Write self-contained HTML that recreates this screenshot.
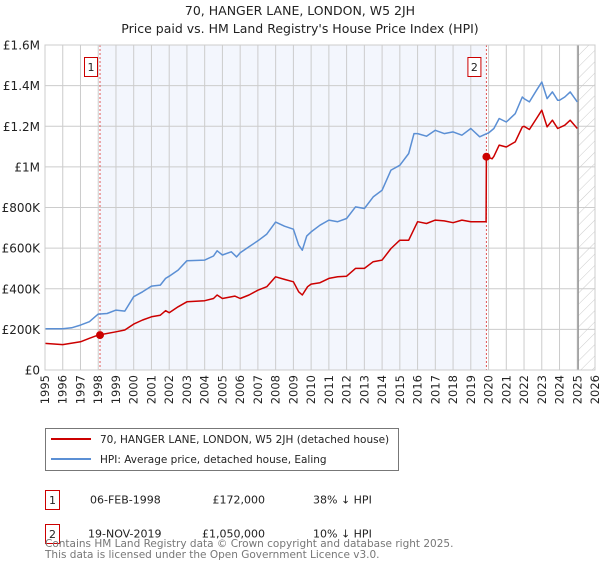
<!DOCTYPE html>
<html><head><meta charset="utf-8">
<style>
body{margin:0;background:#fff;font-family:"Liberation Sans","DejaVu Sans",sans-serif;}
svg text{font-family:"DejaVu Sans","Liberation Sans",sans-serif;}
</style></head>
<body>
<svg id="chart" width="600" height="560" viewBox="0 0 600 560" xmlns="http://www.w3.org/2000/svg">
<defs>
<pattern id="hatch" patternUnits="userSpaceOnUse" width="8" height="8" patternTransform="rotate(45)">
<line x1="0" y1="0" x2="0" y2="8" stroke="#ccc" stroke-width="1"/>
</pattern>
</defs>
<text x="300" y="15" text-anchor="middle" font-size="12.5" fill="#222">70, HANGER LANE, LONDON, W5 2JH</text>
<text x="300" y="33" text-anchor="middle" font-size="12.5" fill="#222">Price paid vs. HM Land Registry's House Price Index (HPI)</text>
<g id="plot"></g>
<g>
<rect x="45.5" y="428.5" width="353" height="42" fill="#fff" stroke="#777"/>
<line x1="51" y1="439" x2="91" y2="439" stroke="#cc0000" stroke-width="2"/>
<text x="100" y="443" font-size="10.5" fill="#222">70, HANGER LANE, LONDON, W5 2JH (detached house)</text>
<line x1="51" y1="459" x2="91" y2="459" stroke="#5b8fd4" stroke-width="2"/>
<text x="100" y="463" font-size="10.5" fill="#222">HPI: Average price, detached house, Ealing</text>
</g>
<g font-size="11" fill="#222">
<rect x="45.5" y="490.5" width="14" height="19" fill="#fff" stroke="#cc0000"/>
<text x="52.5" y="504" text-anchor="middle">1</text>
<text x="90" y="503.5">06-FEB-1998</text>
<text x="265" y="503.5" text-anchor="end">£172,000</text>
<text x="313" y="503.5">38% ↓ HPI</text>
<rect x="45.5" y="524.5" width="14" height="19" fill="#fff" stroke="#cc0000"/>
<text x="52.5" y="538" text-anchor="middle">2</text>
<text x="88" y="537.5">19-NOV-2019</text>
<text x="265" y="537.5" text-anchor="end">£1,050,000</text>
<text x="313" y="537.5">10% ↓ HPI</text>
</g>
<text x="45" y="547" font-size="10.5" fill="#777">Contains HM Land Registry data © Crown copyright and database right 2025.</text>
<text x="45" y="558" font-size="10.5" fill="#777">This data is licensed under the Open Government Licence v3.0.</text>
</svg>
<script>
const hpiYears=[1995,1996,1996.5,1997,1997.5,1998,1998.5,1999,1999.5,2000,2000.5,2001,2001.5,2001.8,2002,2002.5,2003,2004,2004.5,2004.7,2005,2005.5,2005.8,2006,2006.5,2007,2007.5,2008,2008.5,2009,2009.3,2009.5,2009.75,2010,2010.5,2011,2011.5,2012,2012.5,2013,2013.5,2014,2014.5,2015,2015.5,2015.8,2016,2016.5,2017,2017.5,2018,2018.5,2019,2019.5,2019.9,2020,2020.3,2020.6,2021,2021.5,2021.9,2022,2022.3,2022.7,2023,2023.3,2023.6,2023.9,2024,2024.3,2024.6,2025];
const hpiValues=[203,203,208,221,238,275,278,295,290,361,385,413,418,451,462,492,538,541,561,587,566,582,557,577,607,636,669,728,708,693,615,590,659,680,713,738,730,746,803,795,852,885,984,1008,1066,1164,1164,1151,1180,1164,1172,1156,1189,1148,1164,1167,1189,1238,1221,1262,1344,1336,1320,1377,1418,1336,1369,1328,1328,1344,1369,1320];
const ppYears=[1995,1996,1997,1997.5,1998,1999,1999.5,2000,2000.5,2001,2001.5,2001.8,2002,2002.5,2003,2004,2004.5,2004.7,2005,2005.7,2006,2006.5,2007,2007.5,2008,2008.5,2009,2009.3,2009.5,2009.8,2010,2010.5,2011,2011.5,2012,2012.5,2013,2013.5,2014,2014.5,2015,2015.5,2016,2016.5,2017,2017.5,2018,2018.5,2019,2019.5,2019.86,2019.88,2020.2,2020.3,2020.6,2021,2021.5,2021.9,2022,2022.3,2022.7,2023,2023.3,2023.6,2023.9,2024.3,2024.6,2025];
const ppValues=[131,125,139,156,172,188,197,226,246,262,270,292,282,311,336,341,352,369,352,364,352,369,393,410,459,446,434,385,369,410,423,430,451,459,462,500,500,533,541,598,639,639,730,721,738,734,725,738,730,730,730,1052,1040,1052,1107,1098,1123,1197,1200,1184,1238,1279,1197,1230,1189,1205,1230,1189];
const saleYears=[1998.1,2019.88];
const saleValues=[172,1050];
const saleLabels=["1","2"];
const yTicks=[0,200,400,600,800,1000,1200,1400,1600];
const yTickLabels=["£0","£200K","£400K","£600K","£800K","£1M","£1.2M","£1.4M","£1.6M"];
const xTicks=[1995,1996,1997,1998,1999,2000,2001,2002,2003,2004,2005,2006,2007,2008,2009,2010,2011,2012,2013,2014,2015,2016,2017,2018,2019,2020,2021,2022,2023,2024,2025,2026];

const L=45,R=595,T=45,B=370,x0=1995,x1=2026,yMax=1600;
const xs=v=>L+(v-x0)/(x1-x0)*(R-L);
const ys=v=>B-v/yMax*(B-T);
const NS="http://www.w3.org/2000/svg";
const g=document.getElementById('plot');
function mk(tag,attrs,parent){const e=document.createElementNS(NS,tag);for(const k in attrs)e.setAttribute(k,attrs[k]);(parent||g).appendChild(e);return e;}

const bg=mk('rect',{x:L,y:T,width:R-L,height:B-T,fill:'#fff'});


const shade=mk('rect',{x:xs(saleYears[0]),y:T,width:xs(saleYears[1])-xs(saleYears[0]),height:B-T,fill:'#f3f6fd'});


const hatch=mk('rect',{x:xs(2025.05),y:T,width:R-xs(2025.05),height:B-T,fill:'url(#hatch)'});



xTicks.forEach(t=>{
  const l=mk('line',{x1:xs(t),x2:xs(t),y1:T,y2:B,stroke:'#ccc','stroke-width':1});
  
  
  const tx=mk('text',{x:0,y:0,'font-size':11.5,fill:'#222','text-anchor':'end',transform:`translate(${xs(t)+4},${B+5}) rotate(-90)`});
  tx.textContent=t;
  
  
});
yTicks.forEach((t,i)=>{
  const l=mk('line',{x1:L,x2:R,y1:ys(t),y2:ys(t),stroke:'#ccc','stroke-width':1});
  
  
  const tx=mk('text',{x:40,y:ys(t)+4.5,'font-size':12,fill:'#222','text-anchor':'end'});
  tx.textContent=yTickLabels[i];
  
  
});
const cut=mk('line',{x1:xs(2025.05),x2:xs(2025.05),y1:T,y2:B,stroke:'#999','stroke-width':1.5});



saleYears.forEach((yr,i)=>{
  const l=mk('line',{x1:xs(yr),x2:xs(yr),y1:T,y2:B,stroke:'#e05555','stroke-width':1,'stroke-dasharray':'2,2'});
  
  
});

function path(xsArr,vals,color,name){
  const d=xsArr.map((yr,i)=>(i?'L':'M')+xs(yr).toFixed(1)+','+ys(vals[i]).toFixed(1)).join('');
  const p=mk('path',{d:d,fill:'none',stroke:color,'stroke-width':1.5,'stroke-linejoin':'round'});
  
  
}
path(hpiYears,hpiValues,'#5b8fd4','hpi-line');
path(ppYears,ppValues,'#cc0000','price-paid-line');

saleYears.forEach((yr,i)=>{
  const c=mk('circle',{cx:xs(yr),cy:ys(saleValues[i]),r:4,fill:'#cc0000'});
  
  
  const bx=xs(yr)-(i?12:9)-7;
  const r=mk('rect',{x:bx+0.5,y:57.5,width:13,height:19,fill:'#fff',stroke:'#cc0000'});
  
  
  const t=mk('text',{x:bx+7,y:71,'font-size':11,fill:'#222','text-anchor':'middle'});
  t.textContent=saleLabels[i];
  
  
});
const border=mk('rect',{x:L,y:T,width:R-L,height:B-T,fill:'none',stroke:'#ccc'});


</script>
</body></html>
